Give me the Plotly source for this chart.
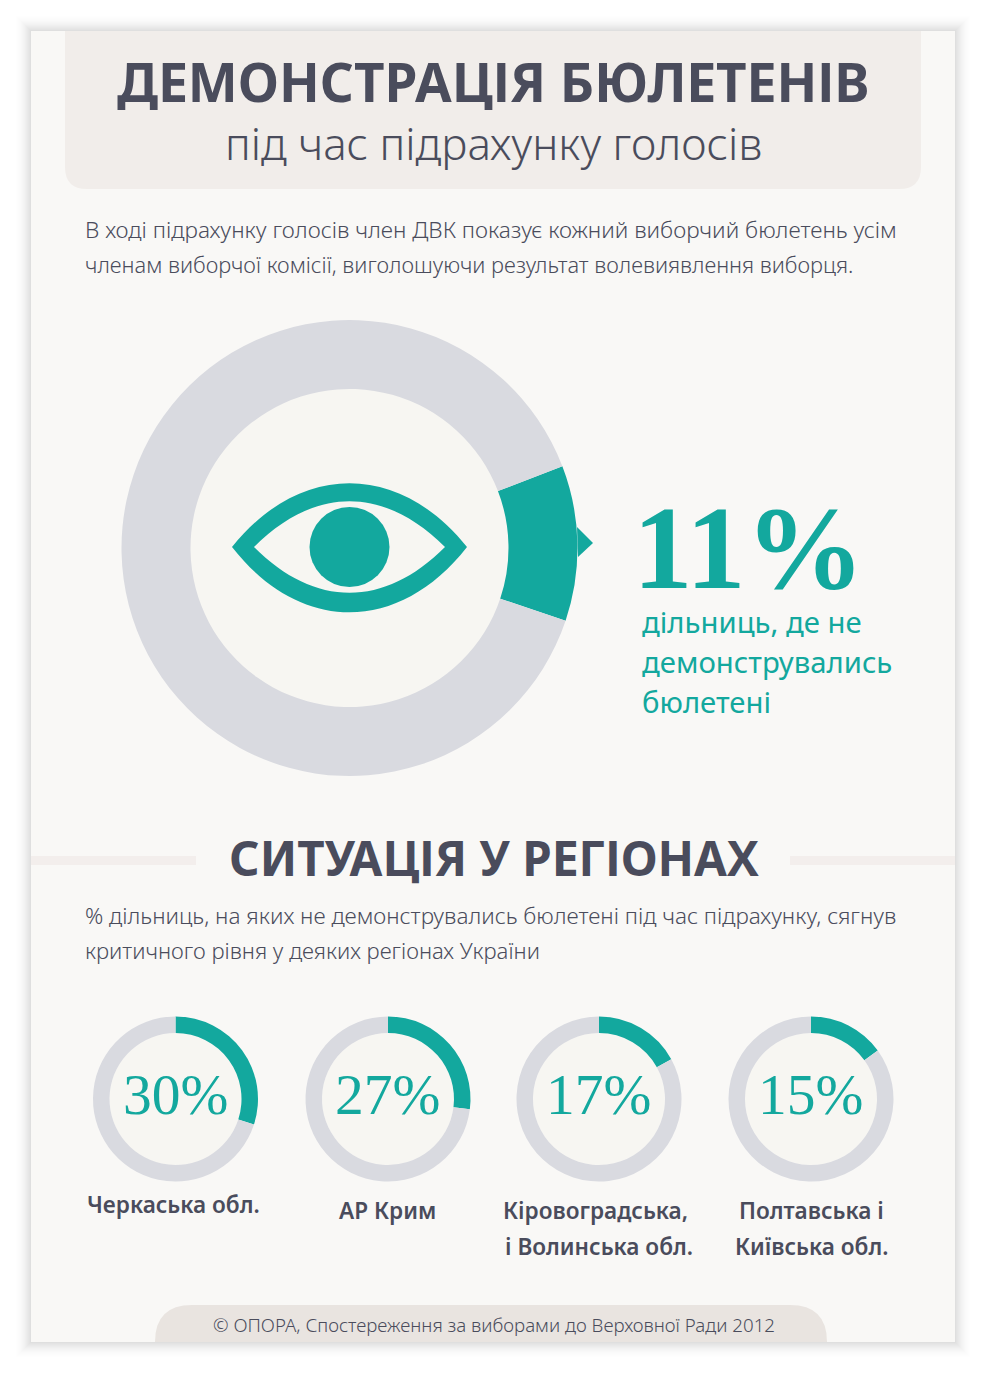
import plotly.graph_objects as go

W, H = 987, 1373

TEAL = '#13a89e'
GREY = '#d9dae0'
INK = '#4a4c5c'
PANEL = '#f9f8f6'
HOLE = '#f7f6f2'
SANS = 'Noto Sans'
SERIF = 'Liberation Serif'

headline_value = 11
headline_lines = ['дільниць, де не', 'демонструвались', 'бюлетені']

region_values = [30, 27, 17, 15]
region_labels = [
    ['Черкаська обл.'],
    ['АР Крим'],
    ['Кіровоградська,', 'і Волинська обл.'],
    ['Полтавська і', 'Київська обл.'],
]

title = 'ДЕМОНСТРАЦІЯ БЮЛЕТЕНІВ'
subtitle = 'під час підрахунку голосів'
intro_lines = [
    'В ході підрахунку голосів член ДВК показує кожний виборчий бюлетень усім',
    'членам виборчої комісії, виголошуючи результат волевиявлення виборця.',
]
section_title = 'СИТУАЦІЯ У РЕГІОНАХ'
section_lines = [
    '% дільниць, на яких не демонструвались бюлетені під час підрахунку, сягнув',
    'критичного рівня у деяких регіонах України',
]
footer = '© ОПОРА, Спостереження за виборами до Верховної Ради 2012'


def donut(cx, cy, outer, inner, value, rotation=0):
    return go.Pie(
        values=[value, 100 - value],
        sort=False,
        direction='clockwise',
        rotation=rotation,
        hole=inner / outer,
        marker=dict(colors=[TEAL, GREY], line=dict(width=0)),
        textinfo='none',
        hoverinfo='skip',
        showlegend=False,
        domain=dict(x=[(cx - outer) / W, (cx + outer) / W],
                    y=[1 - (cy + outer) / H, 1 - (cy - outer) / H]),
    )


def text(x, y, txt, size, color=INK, family=SANS, weight=400, anchor='left'):
    fig.add_annotation(x=x, y=y, text=txt, showarrow=False, xanchor=anchor, yanchor='middle',
                       font=dict(family=family, size=size, color=color, weight=weight))


def rect(x0, y0, x1, y1, color, opacity=1):
    fig.add_shape(type='rect', x0=x0, y0=y0, x1=x1, y1=y1, fillcolor=color,
                  opacity=opacity, line_width=0, layer='below')


def circle(cx, cy, r, color, layer='above'):
    fig.add_shape(type='circle', x0=cx - r, y0=cy - r, x1=cx + r, y1=cy + r,
                  fillcolor=color, line_width=0, layer=layer)


def path(d, color, layer='below'):
    fig.add_shape(type='path', path=d, fillcolor=color, line_width=0, layer=layer)


fig = go.Figure()
# empty trace, so the shapes and texts can use the pixel axes
fig.add_trace(go.Scatter(x=[], y=[], hoverinfo='skip', showlegend=False))

# soft shadow round the sheet
for i in range(16, 0, -1):
    rect(31 - i, 31 - i, 955 + i, 1342 + i, '#000000', 0.015 * (1 - i / 18))
rect(31, 31, 955, 1342, PANEL)

# header
path('M 65 31 L 921 31 L 921 167 Q 921 189 899 189 L 87 189 Q 65 189 65 167 Z', '#f1edea')
text(493, 81, title, 53, weight=700, anchor='center')
text(493, 143, subtitle, 44, weight=300, anchor='center')

for y, size, line in zip([229, 264], [22.6, 21.85], intro_lines):
    text(83, y, line, size, weight=300)

# main donut
circle(349.5, 548, 160, HOLE, layer='below')
fig.add_trace(donut(349.5, 548, 228, 159, headline_value, rotation=69))
path('M 577 527 L 593 543 L 578 557 Z', TEAL, layer='above')

# eye
path('M 232 547 C 300 462 399 462 467 547 C 399 634 300 634 232 547 Z '
     'M 254 547 C 315 486 384 486 445 547 C 384 608 315 608 254 547 Z', TEAL, layer='above')
circle(349.5, 547, 40, TEAL)

text(631, 548, f'{headline_value}%', 119, color=TEAL, family=SERIF, weight=700)
for y, line in zip([622, 662, 702], headline_lines):
    text(640, y, line, 29.3, color=TEAL)

# regions
rect(31, 856, 196, 865, '#f3eeec')
rect(790, 856, 955, 865, '#f3eeec')
text(494, 857, section_title, 47.5, weight=700, anchor='center')
for y, size, line in zip([915, 950], [22.5, 22.1], section_lines):
    text(83, y, line, size, weight=300)

region_x = [175.5, 388, 599, 811]
label_x = [[173.5], [387.5], [595.5, 599], [811, 811]]
label_y = [[1204], [1210], [1210, 1246], [1210, 1246]]
for cx, value, labels, xs, ys in zip(region_x, region_values, region_labels, label_x, label_y):
    circle(cx, 1099, 66, HOLE, layer='below')
    fig.add_trace(donut(cx, 1099, 82.5, 66, value))
    text(cx - 0.5, 1094, f'{value}%', 57.5, color=TEAL, family=SERIF, anchor='center')
    for x, y, line in zip(xs, ys, labels):
        text(x, y, line, 22.6, weight=600, anchor='center')

# footer
path('M 155 1342 Q 155 1305 192 1305 L 790 1305 Q 827 1305 827 1342 Z', '#e9e4e0')
text(494, 1324, footer, 18.7, weight=300, anchor='center')

fig.update_layout(
    width=W,
    height=H,
    margin=dict(l=0, r=0, t=0, b=0),
    paper_bgcolor='#ffffff',
    plot_bgcolor='rgba(0,0,0,0)',
    xaxis=dict(range=[0, W], visible=False, fixedrange=True),
    yaxis=dict(range=[H, 0], visible=False, fixedrange=True),
)

fig.write_html('out.html', config=dict(displayModeBar=False),
               post_script="document.body.style.margin='0';document.body.style.overflow='hidden';")
